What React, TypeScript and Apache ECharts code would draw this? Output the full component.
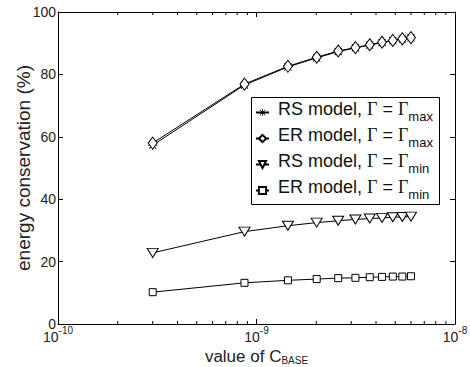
import React, { useEffect, useRef } from "react";
import * as echarts from "echarts";

const cBase = [3e-10, 8.7e-10, 1.44e-9, 2.01e-9, 2.58e-9, 3.15e-9, 3.72e-9, 4.29e-9, 4.86e-9, 5.43e-9, 6.0e-9];
const rsMax = [57.3, 76.6, 82.4, 85.3, 87.3, 88.5, 89.4, 90.2, 90.8, 91.3, 91.7];
const erMax = [58.0, 76.9, 82.6, 85.5, 87.5, 88.6, 89.5, 90.3, 90.9, 91.4, 91.8];
const rsMin = [22.8, 29.6, 31.5, 32.5, 33.1, 33.5, 33.8, 34.0, 34.2, 34.3, 34.4];
const erMin = [10.2, 13.2, 14.0, 14.4, 14.7, 14.8, 15.0, 15.1, 15.2, 15.2, 15.3];
const minorTickValues = [2e-10, 3e-10, 4e-10, 5e-10, 6e-10, 7e-10, 8e-10, 9e-10, 2e-9, 3e-9, 4e-9, 5e-9, 6e-9, 7e-9, 8e-9, 9e-9];

const seriesNames = ["RS model, Γ = Γmax", "ER model, Γ = Γmax", "RS model, Γ = Γmin", "ER model, Γ = Γmin"];
const legendParts = [
  ["RS model, ", "max"],
  ["ER model, ", "max"],
  ["RS model, ", "min"],
  ["ER model, ", "min"],
];

const ASTERISK =
  "path://M4.5,0H5.5V10H4.5Z M0,4.5H10V5.5H0Z M0.7,1.4L1.4,0.7L9.3,8.6L8.6,9.3Z M8.6,0.7L9.3,1.4L1.4,9.3L0.7,8.6Z";

export default function App() {
  const ref = useRef<HTMLDivElement>(null);
  useEffect(() => {
    if (!ref.current) return;
    const chart = echarts.init(ref.current, null, { renderer: "svg" });
    const font = "Liberation Sans, Arial, Helvetica, sans-serif";
    const serif = "Liberation Serif, Times New Roman, serif";
    const pts = (ys: number[]) => cBase.map((x, i) => [x, ys[i]]);
    const lineSeries = (name: string, ys: number[], symbol: string, size: number | number[], rotate = 0, filled = false) => ({
      name,
      type: "line",
      data: pts(ys),
      symbol,
      symbolSize: size,
      symbolRotate: rotate,
      showAllSymbol: true,
      lineStyle: { color: "#000", width: 1 },
      itemStyle: filled
        ? { color: "#000", borderWidth: 0 }
        : { color: "#fff", borderColor: "#000", borderWidth: 1 },
      emphasis: { disabled: true },
      z: 3,
    });
    const option: any = {
      animation: false,
      textStyle: { fontFamily: font },
      grid: { left: 58, right: 15, top: 12, bottom: 43, containLabel: false, outerBoundsMode: "none" },
      graphic: [
        {
          type: "rect",
          left: 251,
          top: 97,
          z: 9,
          shape: { width: 188, height: 107 },
          style: { fill: "#fff", stroke: "#000", lineWidth: 1 },
          silent: true,
        },
      ],
      xAxis: [
        {
          type: "log",
          logBase: 10,
          min: 1e-10,
          max: 1e-8,
          axisLine: { show: true, onZero: false, lineStyle: { color: "#000", width: 1 } },
          axisTick: { show: true, inside: true, length: 5, lineStyle: { color: "#000" } },
          splitLine: { show: false },
          axisLabel: {
            color: "#222",
            margin: 6,
            formatter: (v: number) => {
              const e = Math.round(Math.log10(v));
              return `{b|10}{e|${e}}`;
            },
            rich: {
              b: { fontSize: 14, lineHeight: 14, fontFamily: font, color: "#222", verticalAlign: "bottom" },
              e: { fontSize: 10, lineHeight: 14, fontFamily: font, color: "#222", verticalAlign: "bottom", padding: [0, 0, 9, 0] },
            },
          },
          name: "value of C{s|BASE}",
          nameLocation: "middle",
          nameGap: 24,
          nameMoveOverlap: false,
          nameTextStyle: {
            fontSize: 17,
            color: "#222",
            fontFamily: font,
            rich: { s: { fontSize: 10, fontFamily: font, color: "#222", padding: [7, 0, 0, 0] } },
          },
        },
        {
          type: "log",
          logBase: 10,
          min: 1e-10,
          max: 1e-8,
          position: "top",
          axisLine: { show: true, onZero: false, lineStyle: { color: "#000", width: 1 } },
          axisTick: { show: true, inside: true, length: 5, lineStyle: { color: "#000" } },
          axisLabel: { show: false },
          splitLine: { show: false },
        },
      ],
      yAxis: [
        {
          type: "value",
          min: 0,
          max: 100,
          interval: 20,
          axisLine: { show: true, onZero: false, lineStyle: { color: "#000", width: 1 } },
          axisTick: { show: true, inside: true, length: 5, lineStyle: { color: "#000" } },
          splitLine: { show: false },
          axisLabel: { color: "#222", fontSize: 14, margin: 2, fontFamily: font },
          name: "energy conservation (%)",
          nameLocation: "middle",
          nameGap: 25,
          nameMoveOverlap: false,
          nameTextStyle: { fontSize: 19, color: "#222", fontFamily: font },
        },
        {
          type: "value",
          min: 0,
          max: 100,
          interval: 20,
          position: "right",
          axisLine: { show: true, onZero: false, lineStyle: { color: "#000", width: 1 } },
          axisTick: { show: true, inside: true, length: 5, lineStyle: { color: "#000" } },
          axisLabel: { show: false },
          splitLine: { show: false },
        },
      ],
      legend: {
        data: seriesNames,
        orient: "vertical",
        left: 251,
        top: 97,
        z: 10,
        padding: [3, 5, 1, 4],
        itemGap: 1,
        itemWidth: 13,
        itemHeight: 9,
        symbolRotate: "inherit",
        selectedMode: false,
        formatter: (name: string) => {
          const i = seriesNames.indexOf(name);
          const [t, s] = legendParts[i];
          return `{p|}{t|${t}}{g|Γ}{t| = }{g|Γ}{s|${s}}`;
        },
        textStyle: {
          color: "#111",
          fontSize: 18,
          fontFamily: font,
          lineHeight: 25,
          rich: {
            p: { width: 4, lineHeight: 25, verticalAlign: "top" },
            t: { fontSize: 18, fontFamily: font, color: "#111", lineHeight: 25, verticalAlign: "top" },
            g: { fontSize: 18, fontFamily: serif, color: "#111", lineHeight: 25, verticalAlign: "top" },
            s: { fontSize: 13, fontFamily: font, color: "#111", lineHeight: 25, verticalAlign: "bottom", padding: [0, 0, 2, 0] },
          },
        },
      },
      series: [
        lineSeries(seriesNames[0], rsMax, ASTERISK, 9, 0, true),
        lineSeries(seriesNames[1], erMax, "diamond", [9, 12]),
        lineSeries(seriesNames[2], rsMin, "triangle", [11, 9], 180),
        lineSeries(seriesNames[3], erMin, "rect", 7),
        {
          type: "custom",
          xAxisIndex: 0,
          yAxisIndex: 0,
          silent: true,
          clip: false,
          data: minorTickValues.map((v) => [v]),
          renderItem: (params: any, api: any) => {
            const v = api.value(0);
            const b = api.coord([v, 0]);
            const t = api.coord([v, 100]);
            return {
              type: "group",
              children: [
                { type: "line", shape: { x1: b[0], y1: b[1], x2: b[0], y2: b[1] - 3 }, style: { stroke: "#000", lineWidth: 1 } },
                { type: "line", shape: { x1: t[0], y1: t[1], x2: t[0], y2: t[1] + 3 }, style: { stroke: "#000", lineWidth: 1 } },
              ],
            };
          },
          z: 1,
        },
      ],
    };
    chart.setOption(option);
    return () => chart.dispose();
  }, []);
  return <div ref={ref} style={{ position: "fixed", left: 0, top: 0, width: 470, height: 367, background: "#fff" }} />;
}
